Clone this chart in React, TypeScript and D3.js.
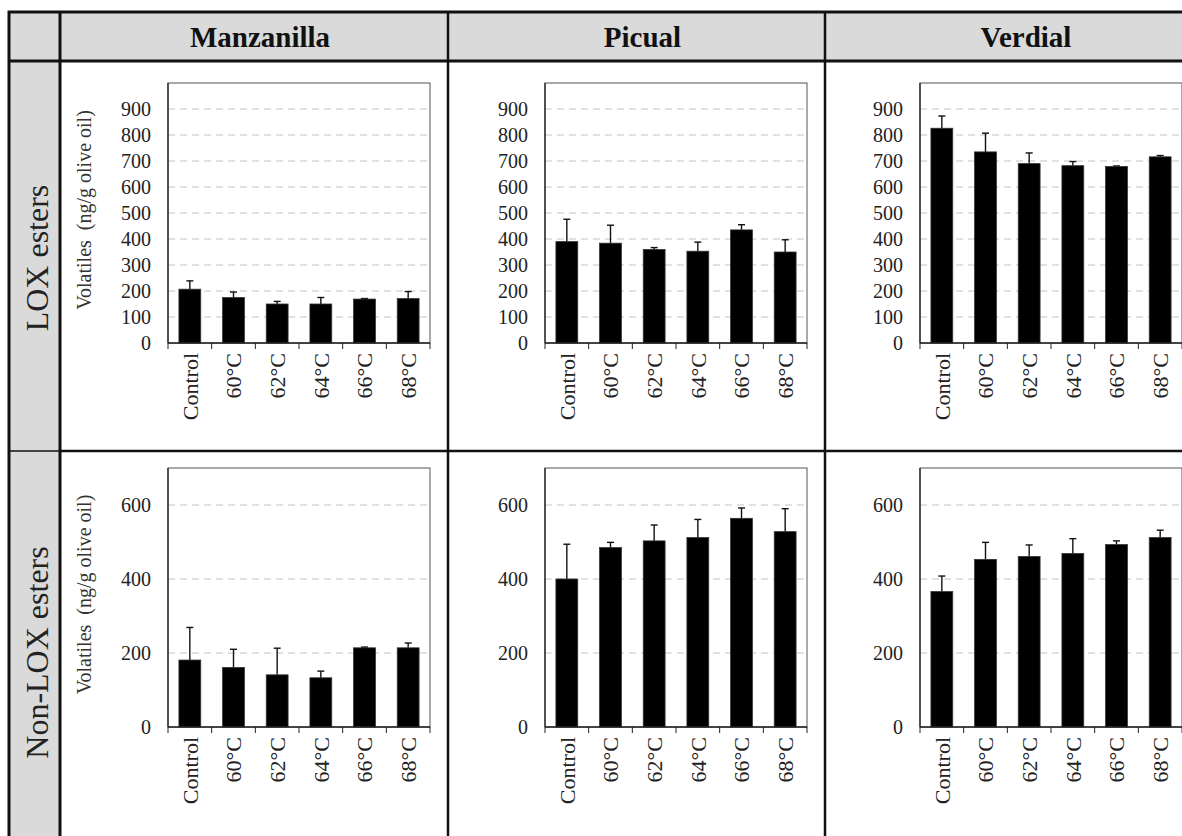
import * as d3 from "d3";

const categories = ["Control", "60°C", "62°C", "64°C", "66°C", "68°C"];
const cultivars = ["Manzanilla", "Picual", "Verdial"];
const rowLabels = ["LOX esters", "Non-LOX esters"];
const yLabel = "Volatiles  (ng/g olive oil)";

// LOX esters (means, SD)
const loxManzanilla = [207, 175, 150, 150, 169, 171];
const loxManzanillaSd = [32, 21, 10, 25, 2, 27];
const loxPicual = [390, 384, 360, 353, 435, 350];
const loxPicualSd = [86, 69, 7, 35, 20, 47];
const loxVerdial = [826, 735, 690, 682, 679, 716];
const loxVerdialSd = [47, 72, 41, 16, 2, 5];

// Non-LOX esters (means, SD)
const nonLoxManzanilla = [181, 161, 141, 133, 214, 214];
const nonLoxManzanillaSd = [88, 49, 72, 18, 2, 13];
const nonLoxPicual = [400, 485, 503, 512, 564, 528];
const nonLoxPicualSd = [94, 14, 43, 49, 28, 62];
const nonLoxVerdial = [366, 453, 461, 469, 493, 512];
const nonLoxVerdialSd = [42, 46, 31, 40, 10, 20];

const loxTicks = [0, 100, 200, 300, 400, 500, 600, 700, 800, 900];
const nonLoxTicks = [0, 200, 400, 600];

const rows = [
  { max: 1000, ticks: loxTicks, means: [loxManzanilla, loxPicual, loxVerdial], sds: [loxManzanillaSd, loxPicualSd, loxVerdialSd] },
  { max: 700, ticks: nonLoxTicks, means: [nonLoxManzanilla, nonLoxPicual, nonLoxVerdial], sds: [nonLoxManzanillaSd, nonLoxPicualSd, nonLoxVerdialSd] },
];

// table geometry
const W = 1182;
const H = 836;
const tableLeft = 9;
const tableTop = 12;
const labelColRight = 60;
const headerBottom = 61;
const rowDivider = 451;
const tableBottom = 860;
const colEdges = [60, 448, 825, 1215];
const rowTops = [headerBottom, rowDivider];
const rowBottoms = [rowDivider, tableBottom];
const plotLefts = [168, 545, 920];
const plotWidth = 262;
const plotTops = [83, 468];
const plotBottoms = [343, 727];

const serif = "'Liberation Serif', 'Times New Roman', serif";

function Panel({ row, col }: { row: number; col: number }) {
  const r = rows[row];
  const left = plotLefts[col];
  const right = left + plotWidth;
  const top = plotTops[row];
  const bottom = plotBottoms[row];
  const x = d3.scaleBand<string>().domain(categories).range([left, right]).paddingInner(0.5).paddingOuter(0.25);
  const y = d3.scaleLinear().domain([0, r.max]).range([bottom, top]);
  const step = x.step();
  const means = r.means[col];
  const sds = r.sds[col];
  const boundaries = d3.range(categories.length + 1).map((i) => left + i * step);

  return (
    <g>
      {r.ticks.filter((t) => t > 0).map((t) => (
        <line key={t} x1={left} x2={right} y1={y(t)} y2={y(t)} stroke="#c4c4c4" strokeWidth={1} strokeDasharray="7,5" />
      ))}
      <rect x={left} y={top} width={plotWidth} height={bottom - top} fill="none" stroke="#555" strokeWidth={1} />
      {categories.map((c, i) => {
        const cx = (x(c) as number) + x.bandwidth() / 2;
        const hi = means[i] + sds[i];
        return (
          <g key={c}>
            <line x1={cx} x2={cx} y1={y(means[i])} y2={y(hi)} stroke="#111" strokeWidth={1.4} />
            <line x1={cx - 3.5} x2={cx + 3.5} y1={y(hi)} y2={y(hi)} stroke="#111" strokeWidth={1.4} />
            <rect x={x(c)} y={y(means[i])} width={x.bandwidth()} height={bottom - y(means[i])} fill="#000" stroke="#333" strokeWidth={0.8} />
          </g>
        );
      })}
      <line x1={left} x2={left} y1={top} y2={bottom} stroke="#222" strokeWidth={1.3} />
      <line x1={left} x2={right} y1={bottom} y2={bottom} stroke="#222" strokeWidth={1.3} />
      {boundaries.map((bx, i) => (
        <line key={i} x1={bx} x2={bx} y1={bottom} y2={bottom + 6} stroke="#222" strokeWidth={1} />
      ))}
      {r.ticks.map((t) => (
        <text key={t} x={left - 17} y={y(t)} dy="0.35em" textAnchor="end" fontFamily={serif} fontSize={20} fill="#222">
          {t}
        </text>
      ))}
      {categories.map((c) => {
        const cx = (x(c) as number) + x.bandwidth() / 2;
        return (
          <text
            key={c}
            transform={`translate(${cx},${bottom + 10}) rotate(-90)`}
            dy="0.36em"
            textAnchor="end"
            fontFamily={serif}
            fontSize={22}
            fill="#222"
          >
            {c}
          </text>
        );
      })}
      {col === 0 && (
        <text
          transform={`translate(84,${(top + bottom) / 2 - 3}) rotate(-90)`}
          dy="0.35em"
          textAnchor="middle"
          fontFamily={serif}
          fontSize={20}
          fill="#333"
          style={{ whiteSpace: "pre" }}
        >
          {yLabel}
        </text>
      )}
    </g>
  );
}

export default function App() {
  return (
    <svg
      width={W}
      height={H}
      style={{ position: "absolute", left: 0, top: 0, background: "#fff" }}
    >
      {/* gray header row and label column */}
      <rect x={tableLeft} y={tableTop} width={W} height={headerBottom - tableTop} fill="#dadada" />
      <rect x={tableLeft} y={tableTop} width={labelColRight - tableLeft} height={tableBottom - tableTop} fill="#dadada" />

      {rows.map((_, ri) =>
        cultivars.map((_, ci) => <Panel key={`${ri}-${ci}`} row={ri} col={ci} />)
      )}

      {/* table lines */}
      <rect x={tableLeft} y={tableTop} width={W + 40} height={tableBottom - tableTop} fill="none" stroke="#111" strokeWidth={3} />
      <line x1={tableLeft} x2={W + 20} y1={headerBottom} y2={headerBottom} stroke="#111" strokeWidth={3} />
      <line x1={labelColRight} x2={W + 20} y1={rowDivider} y2={rowDivider} stroke="#111" strokeWidth={2.5} />
      <line x1={tableLeft} x2={labelColRight} y1={rowDivider} y2={rowDivider} stroke="#111" strokeWidth={1.5} />
      {colEdges.map((cx, i) => (
        <line key={i} x1={cx} x2={cx} y1={tableTop} y2={tableBottom} stroke="#111" strokeWidth={i === 0 ? 3 : 2.5} />
      ))}

      {cultivars.map((c, i) => (
        <text
          key={c}
          x={(colEdges[i] + colEdges[i + 1]) / 2 + 6}
          y={(tableTop + headerBottom) / 2}
          dy="0.35em"
          textAnchor="middle"
          fontFamily={serif}
          fontWeight="bold"
          fontSize={29}
          fill="#111"
        >
          {c}
        </text>
      ))}

      {rowLabels.map((l, i) => (
        <text
          key={l}
          transform={`translate(${(tableLeft + labelColRight) / 2 + 2},${(rowTops[i] + Math.min(rowBottoms[i], 850)) / 2 + 2}) rotate(-90)`}
          dy="0.35em"
          textAnchor="middle"
          fontFamily={serif}
          fontSize={32}
          fill="#222"
        >
          {l}
        </text>
      ))}
    </svg>
  );
}
